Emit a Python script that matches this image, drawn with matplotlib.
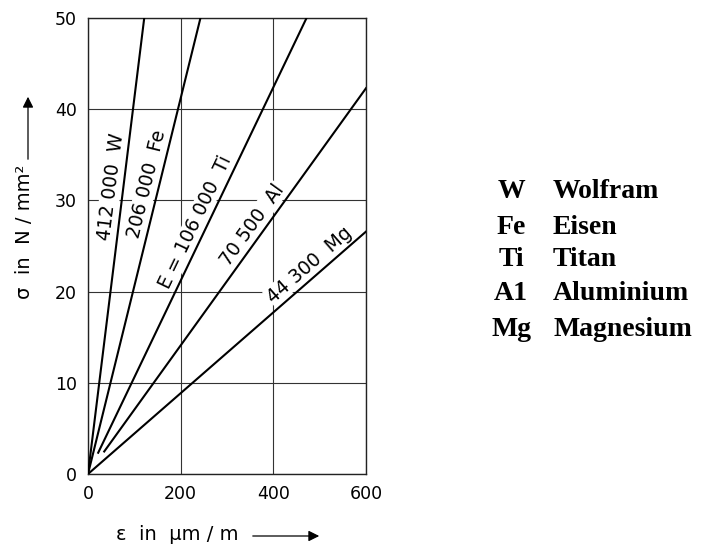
import numpy as np
import matplotlib
matplotlib.use("Agg")
import matplotlib.pyplot as plt

# Elastizitätsmoduln in N/mm^2
materials = ['W', 'Fe', 'Ti', 'Al', 'Mg']
moduli = [412000, 206000, 106000, 70500, 44300]
line_labels = ['412 000  W', '206 000  Fe', 'E = 106 000  Ti', '70 500  Al', '44 300  Mg']
start_strain = [0, 0, 22, 35, 0]          # µm/m, where the drawn line begins
label_strain = [76, 153, 255, 376, 495]   # µm/m, label centre along the line

x_ticks = [0, 200, 400, 600]
y_ticks = [0, 10, 20, 30, 40, 50]

legend_symbols = ['W', 'Fe', 'Ti', 'A1', 'Mg']
legend_names = ['Wolfram', 'Eisen', 'Titan', 'Aluminium', 'Magnesium']
legend_y = [192, 228, 259, 293, 330]      # pixel rows

plt.rcParams['font.family'] = ['DejaVu Sans']

fig = plt.figure(figsize=(7.04, 5.48), dpi=100)
W, H = 704, 548
ax_w, ax_h = 278, 456
ax = fig.add_axes([88 / W, 1 - 474 / H, ax_w / W, ax_h / H])

ax.set_xlim(0, 600)
ax.set_ylim(0, 50)
ax.set_xticks(x_ticks)
ax.set_yticks(y_ticks)
ax.tick_params(length=0, labelsize=12.5, pad=8)
ax.grid(True, color='#333333', linewidth=0.8, zorder=1)
ax.set_axisbelow(True)
for s in ax.spines.values():
    s.set_linewidth(1.0)
    s.set_color('#222222')

for E, eps0, txt, lx in zip(moduli, start_strain, line_labels, label_strain):
    eps = np.array([eps0, 600.0])
    sig = E * eps * 1e-6
    ax.plot(eps, sig, color='black', linewidth=1.5, zorder=4)
    # Winkel der Geraden in Pixeln
    ang = np.arctan2(E * 1e-6 * ax_h / 50, ax_w / 600)
    off = 3
    ax.annotate(txt, xy=(lx, E * lx * 1e-6),
                xytext=(-np.sin(ang) * off, np.cos(ang) * off),
                textcoords='offset pixels', rotation=np.degrees(ang),
                rotation_mode='anchor', ha='center', va='bottom', fontsize=13.5,
                zorder=3, bbox=dict(facecolor='white', edgecolor='none', pad=0.5))

# Achsbeschriftungen mit Pfeilen
fig.text(25 / W, 1 - 232 / H, 'σ  in  N / mm²', rotation=90, ha='center', va='center',
         fontsize=14)
ax.annotate('', xy=(28 / W, 1 - 94 / H), xytext=(28 / W, 1 - 162 / H),
            xycoords='figure fraction', textcoords='figure fraction',
            arrowprops=dict(arrowstyle='-|>', color='black', lw=0.9,
                            mutation_scale=16))
fig.text(177 / W, 1 - 535 / H, 'ε  in  µm / m', ha='center', va='center', fontsize=14)
ax.annotate('', xy=(322 / W, 1 - 536 / H), xytext=(250 / W, 1 - 536 / H),
            xycoords='figure fraction', textcoords='figure fraction',
            arrowprops=dict(arrowstyle='-|>', color='black', lw=0.9,
                            mutation_scale=16))

# Legende rechts
for sym, name, yp in zip(legend_symbols, legend_names, legend_y):
    fig.text(511 / W, 1 - yp / H, sym, ha='center', va='center', fontsize=20,
             fontweight='bold', family='Liberation Serif')
    fig.text(553 / W, 1 - yp / H, name, ha='left', va='center', fontsize=20,
             fontweight='bold', family='Liberation Serif')

fig.savefig('out.png', dpi=100, facecolor='white')
